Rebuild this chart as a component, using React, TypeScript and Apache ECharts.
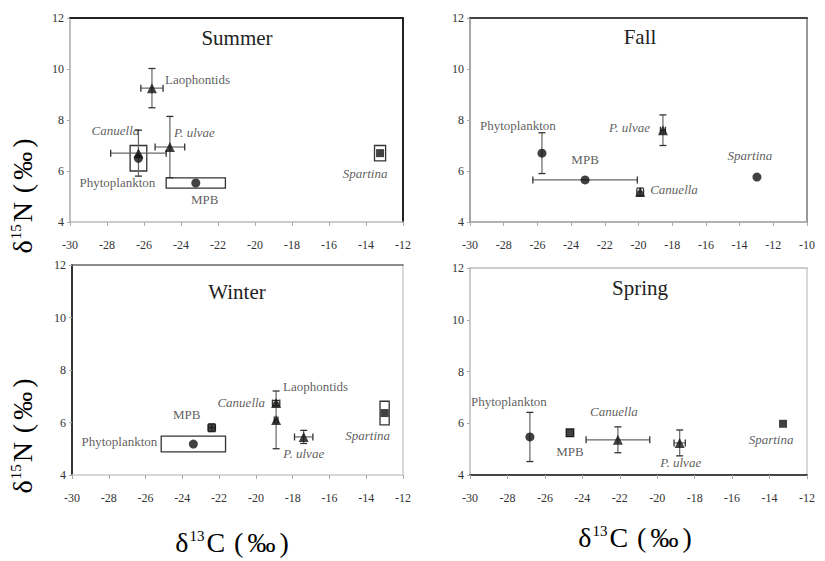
import React, { useEffect, useRef } from "react";
import * as echarts from "echarts";

// ---------- data ----------
const species = ["Phytoplankton", "MPB", "Spartina", "Canuella", "Laophontids", "P. ulvae"];

// Summer
const summerC = [-26.3, -23.2, -13.24, -26.3, -25.57, -24.6];
const summerN = [6.5, 5.53, 6.7, 6.7, 9.25, 6.94];
const summerCErr = [0.45, 1.6, 0.3, 1.5, 0.6, 0.8];
const summerNErr = [0.5, 0.2, 0.3, 0.9, 0.77, 1.2];

// Fall
const fallC = [-25.73, -23.17, -12.97, -19.9, null, -18.55];
const fallN = [6.7, 5.65, 5.76, 5.18, null, 7.6];
const fallCErr = [0, 3.1, 0, 0.2, null, 0.15];
const fallNErr = [0.8, 0, 0, 0.15, null, 0.6];

// Winter
const winterC = [-23.4, -22.4, -13.0, -18.9, -18.9, -17.4];
const winterN = [5.18, 5.8, 6.36, 6.74, 6.1, 5.45];
const winterCErr = [1.75, 0.2, 0.25, 0.2, 0.1, 0.5];
const winterNErr = [0.3, 0.15, 0.45, 0.1, 1.1, 0.25];

// Spring
const springC = [-26.8, -24.66, -13.28, -22.1, null, -18.8];
const springN = [5.47, 5.63, 5.98, 5.36, null, 5.24];
const springCErr = [0, 0.2, 0, 1.7, null, 0.3];
const springNErr = [0.95, 0.15, 0, 0.5, null, 0.5];

const seasons = ["Summer", "Fall", "Winter", "Spring"];
const yMin = 4;
const yMax = 12;
const xMin = -30;
const xMaxes = [-12, -10, -12, -12];

// ---------- styles / layout ----------
const FONT = "'Liberation Serif', 'Times New Roman', serif";

type LabelCfg = [number, number, "left" | "center" | "right"];

const panelLayout = [
  {
    grid: { left: 70, top: 18, width: 333, height: 204 },
    titlePos: [237, 38],
    edges: { top: ["#222", 2], right: ["#222", 2], left: ["#aaa", 1.5], bottom: ["#bbb", 1.5] },
    shapes: ["circle", "circle", "rect", "triangle", "triangle", "triangle"],
    box: [true, true, true, false, false, false],
    labels: [
      [-21, 24, "center"],
      [9, 17, "center"],
      [-15, 20, "center"],
      [-23, -23, "center"],
      [13, -9, "left"],
      [4, -15, "left"],
    ] as LabelCfg[],
  },
  {
    grid: { left: 470, top: 18, width: 337, height: 204 },
    titlePos: [640, 37],
    edges: { top: ["#444", 2], right: ["#777", 1.5], left: ["#888", 1.5], bottom: ["#999", 1.5] },
    shapes: ["circle", "circle", "circle", "triangle", "triangle", "triangle"],
    box: [false, false, false, false, false, false],
    labels: [
      [-24, -28, "center"],
      [0, -20, "center"],
      [-7, -22, "center"],
      [10, -2, "left"],
      [0, 0, "center"],
      [-13, -3, "right"],
    ] as LabelCfg[],
  },
  {
    grid: { left: 72, top: 265, width: 331, height: 210 },
    titlePos: [237, 292],
    edges: { top: ["#666", 1.5], right: ["#ccc", 1.5], left: ["#333", 2], bottom: ["#ccc", 1.5] },
    shapes: ["circle", "rect", "rect", "triangle", "triangle", "triangle"],
    box: [true, false, true, false, false, false],
    labels: [
      [-36, -3, "right"],
      [-25, -13, "center"],
      [-17, 22, "center"],
      [-11, -1, "right"],
      [7, -33, "left"],
      [0, 17, "center"],
    ] as LabelCfg[],
  },
  {
    grid: { left: 470, top: 268, width: 337, height: 207 },
    titlePos: [640, 288],
    edges: { top: ["#bbb", 1.5], right: ["#ccc", 1.5], left: ["#bbb", 1.5], bottom: ["#444", 2] },
    shapes: ["circle", "rect", "rect", "triangle", "triangle", "triangle"],
    box: [false, true, false, false, false, false],
    labels: [
      [-21, -35, "center"],
      [0, 19, "center"],
      [-12, 16, "center"],
      [-4, -28, "center"],
      [0, 0, "center"],
      [1, 20, "center"],
    ] as LabelCfg[],
  },
];

const italicSpecies = ["Spartina", "Canuella", "P. ulvae"];

const seasonData = [
  [summerC, summerN, summerCErr, summerNErr],
  [fallC, fallN, fallCErr, fallNErr],
  [winterC, winterN, winterCErr, winterNErr],
  [springC, springN, springCErr, springNErr],
];

const tickRich = { t: { fontFamily: FONT, fontSize: 12, color: "#333" } };
const labRich = {
  n: { fontFamily: FONT, fontSize: 13, color: "#333" },
  i: { fontFamily: FONT, fontSize: 13, color: "#333", fontStyle: "italic" },
};

function buildOption() {
  const grid: any[] = [];
  const xAxis: any[] = [];
  const yAxis: any[] = [];
  const series: any[] = [];
  const graphic: any[] = [];

  seasons.forEach((season, i) => {
    const L = panelLayout[i];
    grid.push({ ...L.grid, show: false });

    xAxis.push({
      type: "value",
      gridIndex: i,
      min: xMin,
      max: xMaxes[i],
      interval: 2,
      axisLine: { show: true, onZero: false, lineStyle: { color: L.edges.bottom[0], width: L.edges.bottom[1] } },
      axisTick: { show: true, length: 4, lineStyle: { color: "#aaa" } },
      axisLabel: { margin: 17, formatter: (v: number) => `{t|${v}}`, rich: tickRich },
      splitLine: { show: false },
    });
    yAxis.push({
      type: "value",
      gridIndex: i,
      min: yMin,
      max: yMax,
      interval: 2,
      axisLine: { show: true, onZero: false, lineStyle: { color: L.edges.left[0], width: L.edges.left[1] } },
      axisTick: { show: true, length: 3, lineStyle: { color: "#aaa" } },
      axisLabel: { margin: 6, formatter: (v: number) => `{t|${v}}`, rich: tickRich },
      splitLine: { show: false },
    });
  });
  seasons.forEach((season, i) => {
    const L = panelLayout[i];
    xAxis.push({
      type: "value",
      gridIndex: i,
      position: "top",
      min: xMin,
      max: xMaxes[i],
      axisLine: { show: true, onZero: false, lineStyle: { color: L.edges.top[0], width: L.edges.top[1] } },
      axisTick: { show: false },
      axisLabel: { show: false },
      splitLine: { show: false },
    });
    yAxis.push({
      type: "value",
      gridIndex: i,
      position: "right",
      min: yMin,
      max: yMax,
      axisLine: { show: true, onZero: false, lineStyle: { color: L.edges.right[0], width: L.edges.right[1] } },
      axisTick: { show: false },
      axisLabel: { show: false },
      splitLine: { show: false },
    });
  });

  seasons.forEach((season, i) => {
    const L = panelLayout[i];
    const [C, N, CE, NE] = seasonData[i] as (number | null)[][];
    const errData: any[] = [];
    const ptData: any[] = [];
    species.forEach((sp, k) => {
      if (C[k] == null || N[k] == null) return;
      errData.push([C[k], N[k], CE[k] || 0, NE[k] || 0, L.box[k] ? 1 : 0]);
      const lab = L.labels[k];
      const key = italicSpecies.includes(sp) ? "i" : "n";
      ptData.push({
        value: [C[k], N[k]],
        name: sp,
        symbol: L.shapes[k],
        symbolSize: L.shapes[k] === "triangle" ? 10 : L.shapes[k] === "rect" ? 8 : 9,
        label: {
          show: true,
          position: "inside",
          offset: [lab[0], lab[1]],
          align: lab[2],
          verticalAlign: "middle",
          formatter: `{${key}|${sp}}`,
          rich: labRich,
        },
      });
    });

    series.push({
      type: "custom",
      xAxisIndex: i,
      yAxisIndex: i,
      data: errData,
      encode: { x: 0, y: 1 },
      z: 2,
      renderItem: (params: any, api: any) => {
        const x = api.value(0);
        const y = api.value(1);
        const xe = api.value(2);
        const ye = api.value(3);
        const box = api.value(4);
        const l = api.coord([x - xe, y]);
        const r = api.coord([x + xe, y]);
        const t = api.coord([x, y + ye]);
        const b = api.coord([x, y - ye]);
        const children: any[] = [];
        if (box) {
          children.push({
            type: "rect",
            shape: { x: l[0], y: t[1], width: r[0] - l[0], height: b[1] - t[1] },
            style: { fill: "none", stroke: "#333", lineWidth: 1.3 },
          });
          return { type: "group", children };
        }
        const st = { stroke: "#666", lineWidth: 1.2 };
        const cap = { stroke: "#333", lineWidth: 1.3 };
        const h = 3.5;
        if (xe > 0) {
          children.push({ type: "line", shape: { x1: l[0], y1: l[1], x2: r[0], y2: r[1] }, style: st });
          children.push({ type: "line", shape: { x1: l[0], y1: l[1] - h, x2: l[0], y2: l[1] + h }, style: cap });
          children.push({ type: "line", shape: { x1: r[0], y1: r[1] - h, x2: r[0], y2: r[1] + h }, style: cap });
        }
        if (ye > 0) {
          children.push({ type: "line", shape: { x1: t[0], y1: t[1], x2: b[0], y2: b[1] }, style: st });
          children.push({ type: "line", shape: { x1: t[0] - h, y1: t[1], x2: t[0] + h, y2: t[1] }, style: cap });
          children.push({ type: "line", shape: { x1: b[0] - h, y1: b[1], x2: b[0] + h, y2: b[1] }, style: cap });
        }
        return { type: "group", children };
      },
    });

    series.push({
      type: "scatter",
      xAxisIndex: i,
      yAxisIndex: i,
      data: ptData,
      z: 3,
      itemStyle: { color: "#111" },
    });

    graphic.push({
      type: "text",
      x: L.titlePos[0],
      y: L.titlePos[1],
      style: {
        text: season,
        font: `21px ${FONT}`,
        fill: "#222",
        align: "center",
        verticalAlign: "middle",
      },
    });
  });

  const titleRich = {
    a: { fontFamily: FONT, fontSize: 28, color: "#222" },
    s: { fontFamily: FONT, fontSize: 15, color: "#222", verticalAlign: "top", padding: [0, 2, 0, 1] },
    p: { fontFamily: FONT, fontSize: 28, color: "#222", padding: [0, 2, 0, 2] },
  };
  [195, 435].forEach((cy) => {
    graphic.push({
      type: "text",
      x: 22,
      y: cy,
      rotation: Math.PI / 2,
      style: {
        text: "{a|δ}{s|15}{a|N }{p|(}{p|‰}{p|)}",
        rich: titleRich,
        align: "center",
        verticalAlign: "middle",
      },
    });
  });
  [
    [233, 542],
    [636, 537],
  ].forEach((pos) => {
    graphic.push({
      type: "text",
      x: pos[0],
      y: pos[1],
      style: {
        text: "{a|δ}{s|13}{a|C }{p|(}{p|‰}{p|)}",
        rich: titleRich,
        align: "center",
        verticalAlign: "middle",
      },
    });
  });

  return {
    animation: false,
    backgroundColor: "#fff",
    textStyle: { fontFamily: FONT },
    grid,
    xAxis,
    yAxis,
    series,
    graphic,
  };
}

export default function App() {
  const ref = useRef<HTMLDivElement>(null);
  useEffect(() => {
    if (!ref.current) return;
    const chart = echarts.init(ref.current, null, { renderer: "svg" });
    chart.setOption(buildOption() as any);
    return () => chart.dispose();
  }, []);
  return <div ref={ref} style={{ width: 825, height: 561, position: "absolute", left: 0, top: 0 }} />;
}
